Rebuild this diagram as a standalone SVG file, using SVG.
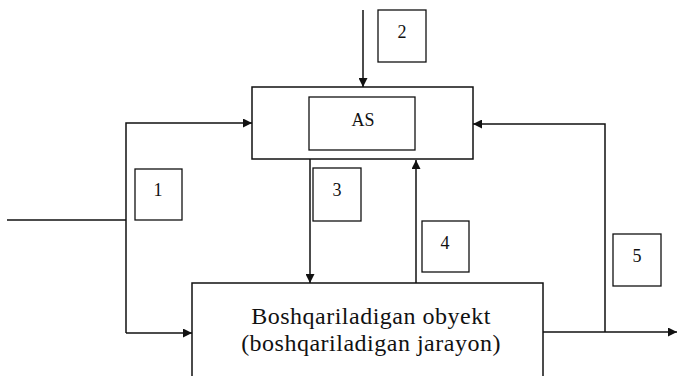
<svg xmlns="http://www.w3.org/2000/svg" width="677" height="376" viewBox="0 0 677 376">
<defs>
<marker id="ah" viewBox="0 0 10 10" refX="10" refY="5" markerWidth="9" markerHeight="9" markerUnits="userSpaceOnUse" orient="auto">
<path d="M0,0 L10,5 L0,10 Z" fill="#111"/>
</marker>
</defs>
<style>
.box{fill:#fff;stroke:#111;stroke-width:1.5}
.lbl{fill:none;stroke:#111;stroke-width:1.3}
.ln{fill:none;stroke:#111;stroke-width:1.5}
.t{font-family:"Liberation Serif","Times New Roman",serif;fill:#111;text-anchor:middle}
.n{font-size:18px}
.big{font-size:24px;letter-spacing:0.5px}
</style>
<rect width="677" height="376" fill="#fff"/>
<g id="connectors">
<path class="ln" d="M363,10 V87" marker-end="url(#ah)"/>
<path class="ln" d="M7,220 H126"/>
<path class="ln" d="M126,333 V123 H252" marker-end="url(#ah)"/>
<path class="ln" d="M126,333 H192" marker-end="url(#ah)"/>
<path class="ln" d="M310,159 V283" marker-end="url(#ah)"/>
<path class="ln" d="M416,283 V160" marker-end="url(#ah)"/>
<path class="ln" d="M543,332 H677" marker-end="url(#ah)"/>
<path class="ln" d="M605,332 V124 H473" marker-end="url(#ah)"/>
</g>
<g id="node-as">
<rect class="box" x="252" y="87" width="221" height="72"/>
<rect class="lbl" x="309" y="97" width="106" height="53"/>
<text class="t n" x="363" y="126">AS</text>
</g>
<g id="node-object">
<rect class="box" x="192" y="283" width="351" height="100"/>
<text class="t big" x="371" y="324">Boshqariladigan obyekt</text>
<text class="t big" x="371" y="351">(boshqariladigan jarayon)</text>
</g>
<g id="label-1">
<rect class="lbl" x="135" y="169" width="47" height="51"/>
<text class="t n" x="158" y="196">1</text>
</g>
<g id="label-2">
<rect class="lbl" x="378" y="10" width="48" height="52"/>
<text class="t n" x="402" y="38">2</text>
</g>
<g id="label-3">
<rect class="lbl" x="313" y="168" width="48" height="53"/>
<text class="t n" x="337" y="196">3</text>
</g>
<g id="label-4">
<rect class="lbl" x="422" y="221" width="47" height="51"/>
<text class="t n" x="445" y="249">4</text>
</g>
<g id="label-5">
<rect class="lbl" x="613" y="234" width="48" height="52"/>
<text class="t n" x="637" y="262">5</text>
</g>
</svg>
